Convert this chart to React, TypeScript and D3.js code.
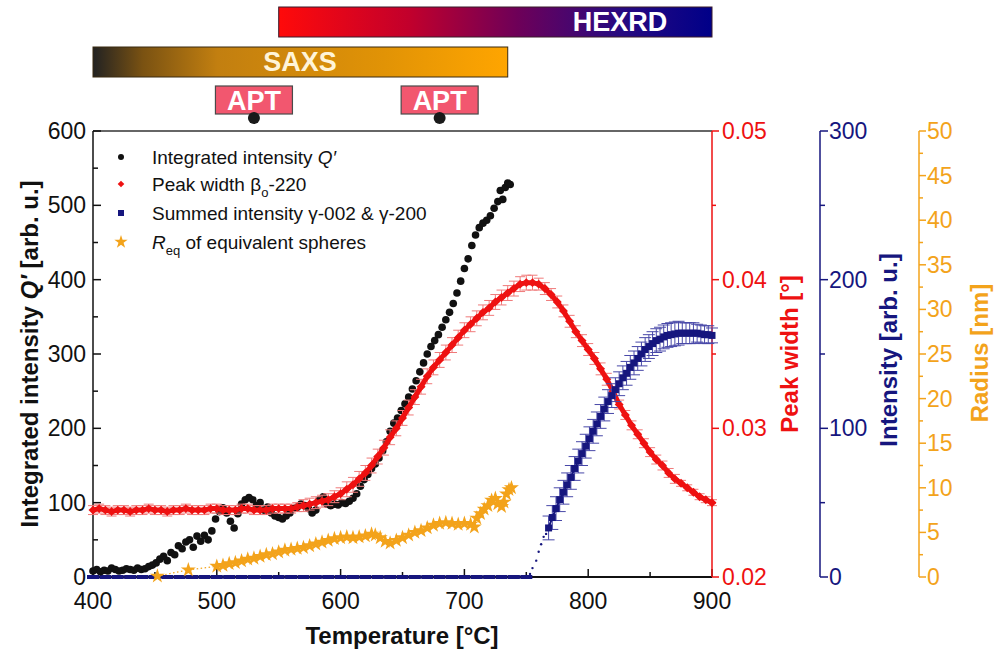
import React from "react";
import * as d3 from "d3";

// ---- Integrated intensity Q' (SAXS) ----
const qTemps = [400,403,406,409,412,415,418,421,424,427,430,433,436,439,442,445,448,451,454,457,460,463,466,469,472,475,478,481,484,487,490,493,496,499,502,505,508,511,514,517,520,523,526,529,532,535,538,541,544,547,550,553,556,559,562,565,568,571,574,577,580,583,586,589,592,595,598,601,604,607,610,613,616,619,622,625,628,631,634,637,640,643,646,649,652,655,658,661,664,667,670,673,676,679,682,685,688,691,694,697,700,703,706,709,712,715,718,721,724,727,729,731,733,735,737];
const qValues = [8,10,7,9,8,12,10,8,9,11,10,9,12,10,11,14,16,19,24,28,22,33,30,42,38,47,50,40,55,48,56,50,62,78,88,93,86,75,66,85,98,104,107,104,96,100,90,94,86,82,80,78,82,86,92,94,98,96,92,86,90,104,108,98,96,98,97,100,99,102,106,112,122,131,138,146,152,160,170,182,196,207,214,224,233,242,253,264,276,288,300,310,318,326,336,346,356,368,382,398,415,428,446,460,470,476,480,486,496,505,520,508,524,530,528];

// ---- Peak width beta_o-220 (HEXRD) ----
const wTemps = [400,405,410,415,420,425,430,435,440,445,450,455,460,465,470,475,480,485,490,495,500,505,510,515,520,525,530,535,540,545,550,555,560,565,570,575,580,585,590,595,600,605,610,615,620,625,630,635,640,645,650,655,660,665,670,675,680,685,690,695,700,705,710,715,720,725,730,735,740,745,750,755,760,765,770,775,780,785,790,795,800,805,810,815,820,825,830,835,840,845,850,855,860,865,870,875,880,885,890,895,900];
const wValues = [0.0245,0.0246,0.0245,0.0244,0.0245,0.0245,0.0244,0.0245,0.0245,0.0246,0.0245,0.0245,0.0244,0.0245,0.0245,0.0246,0.0245,0.0245,0.0245,0.0246,0.0246,0.0245,0.0245,0.0245,0.0246,0.0246,0.0245,0.0245,0.0245,0.0246,0.0246,0.0246,0.0246,0.0247,0.0248,0.0249,0.0250,0.0251,0.0252,0.0254,0.0256,0.0259,0.0262,0.0266,0.0270,0.0275,0.0281,0.0287,0.0294,0.0300,0.0307,0.0314,0.0321,0.0328,0.0335,0.0341,0.0346,0.0351,0.0356,0.0361,0.0366,0.0370,0.0374,0.0378,0.0381,0.0385,0.0388,0.0391,0.0394,0.0397,0.0398,0.0398,0.0397,0.0394,0.0390,0.0385,0.0379,0.0372,0.0365,0.0359,0.0353,0.0347,0.0340,0.0333,0.0325,0.0316,0.0309,0.0302,0.0296,0.0290,0.0284,0.0279,0.0275,0.0270,0.0266,0.0263,0.0260,0.0257,0.0254,0.0252,0.0250];
const wErrors = [0.0003,0.0003,0.0003,0.0003,0.0003,0.0003,0.0003,0.0003,0.0003,0.0003,0.0003,0.0003,0.0003,0.0003,0.0003,0.0003,0.0003,0.0003,0.0003,0.0003,0.0003,0.0003,0.0003,0.0003,0.0003,0.0003,0.0003,0.0003,0.0003,0.0003,0.0003,0.0003,0.0003,0.0003,0.0004,0.0004,0.0004,0.0004,0.0004,0.0004,0.0004,0.0005,0.0005,0.0005,0.0005,0.0005,0.0005,0.0005,0.0005,0.0005,0.0005,0.0005,0.0005,0.0005,0.0005,0.0005,0.0005,0.0005,0.0005,0.0005,0.0005,0.0005,0.0005,0.0005,0.0005,0.0005,0.0005,0.0005,0.0005,0.0005,0.0005,0.0005,0.0004,0.0004,0.0004,0.0004,0.0004,0.0004,0.0004,0.0004,0.0004,0.0004,0.0004,0.0004,0.0003,0.0003,0.0003,0.0003,0.0003,0.0003,0.0003,0.0003,0.0003,0.0003,0.0003,0.0002,0.0002,0.0002,0.0002,0.0002,0.0002];

// ---- Summed intensity gamma-002 & gamma-200 (HEXRD) ----
const gBaseTemps = [400,410,420,430,440,450,460,470,480,490,500,510,520,530,540,550,560,570,580,590,600,610,620,630,640,650,660,670,680,690,700,710,720,730,740,750];
const gBaseValues = [0,0,0,0,0,0,0,0,0,0,0,0,0,0,0,0,0,0,0,0,0,0,0,0,0,0,0,0,0,0,0,0,0,0,0,0];
const gOnsetTemps = [753,755,758,760,762,764,766];
const gOnsetValues = [2,6,11,17,22,27,29];
const gTemps = [768,771,774,777,780,783,786,789,792,795,798,801,804,807,810,813,816,819,822,825,828,831,834,837,840,843,846,849,852,855,858,861,864,867,870,873,876,879,882,885,888,891,894,897,900];
const gValues = [33,40,46,52,57,62,67,73,78,83,88,93,98,103,108,113,118,122,126,130,134,137,141,144,147,150,153,155,157,159,160,161.5,162.5,163,163.5,164,164,164,164,164,164,163.5,163,163,162.5];
const gErrors = [8,8,8,8,8,8,8,8,8,8,8,8,8,8,8,8,8,8,8,8,8,8,8,8,8,8,8,8,8,8,8,8,8,8,8,8,7,7,7,7,6,6,6,6,5];

// ---- R_eq of equivalent spheres (SAXS) ----
const rTemps = [452,477,500,505,510,515,520,525,530,535,540,545,550,555,560,565,570,575,580,585,590,595,600,605,610,615,620,625,628,632,636,640,645,650,655,660,665,670,675,680,685,690,695,700,705,708,710,713,716,719,722,725,727,730,732,734,736,738];
const rValues = [0.1,0.8,1.2,1.3,1.5,1.6,1.8,2.0,2.1,2.3,2.5,2.6,2.8,3.0,3.1,3.2,3.3,3.5,3.7,3.9,4.1,4.3,4.4,4.5,4.4,4.5,4.6,4.8,4.7,4.4,4.0,3.8,4.1,4.4,4.7,5.0,5.2,5.5,5.8,6.0,6.1,6.0,5.9,6.0,5.9,5.6,6.6,7.1,7.6,8.0,8.6,8.8,8.2,7.9,8.4,9.3,9.8,10.0];

// ---- Axis ticks ----
const tempTicks = [400, 500, 600, 700, 800, 900];
const tempMinor = [450, 550, 650, 750, 850];
const qTicks = [0, 100, 200, 300, 400, 500, 600];
const qMinor = [50, 150, 250, 350, 450, 550];
const wTicks = [0.02, 0.03, 0.04, 0.05];
const wMinor = [0.025, 0.035, 0.045];
const iTicks = [0, 100, 200, 300];
const iMinor = [50, 150, 250];
const rTicks = [0, 5, 10, 15, 20, 25, 30, 35, 40, 45, 50];
const rMinor = [2.5, 7.5, 12.5, 17.5, 22.5, 27.5, 32.5, 37.5, 42.5, 47.5];

// ---- Technique ranges shown above the plot ----
const hexrdRange = [550, 900];
const saxsRange = [400, 735];
const aptTemps = [530, 680];

const FONT = "'Liberation Sans', Arial, Helvetica, sans-serif";
const RED = "#ee1111";
const NAVY = "#16167e";
const ORANGE = "#f3a31b";

export default function App() {
  const left = 93, right = 712, top = 131, bottom = 577;
  const x = d3.scaleLinear().domain([400, 900]).range([left, right]);
  const yQ = d3.scaleLinear().domain([0, 600]).range([bottom, top]);
  const yW = d3.scaleLinear().domain([0.02, 0.05]).range([bottom, top]);
  const yI = d3.scaleLinear().domain([0, 300]).range([bottom, top]);
  const yR = d3.scaleLinear().domain([0, 50]).range([bottom, top]);

  const starPath = d3.symbol(d3.symbolStar, 70)() as string;
  const starSmall = d3.symbol(d3.symbolStar, 55)() as string;
  const square = d3.symbol(d3.symbolSquare, 40)() as string;

  const wLine = d3.line<number>().x((_, i) => x(wTemps[i])).y((v) => yW(v))(wValues) as string;
  const rLine = d3.line<number>().x((_, i) => x(rTemps[i])).y((v) => yR(v))(rValues) as string;
  const gLine = d3.line<number>().x((_, i) => x(gTemps[i])).y((v) => yI(v))(gValues) as string;

  const axisX = 712, navyX = 820, orangeX = 919;
  const tickFont = 23;

  return (
    <svg width={995} height={655} style={{ position: "absolute", left: 0, top: 0, background: "#fff" }} fontFamily={FONT}>
      <defs>
        <linearGradient id="hexrdGrad" x1="0" x2="1" y1="0" y2="0">
          <stop offset="0" stopColor="#ff0a0a" />
          <stop offset="0.3" stopColor="#c2002c" />
          <stop offset="0.55" stopColor="#6e0058" />
          <stop offset="0.78" stopColor="#2a0a80" />
          <stop offset="1" stopColor="#000088" />
        </linearGradient>
        <linearGradient id="saxsGrad" x1="0" x2="1" y1="0" y2="0">
          <stop offset="0" stopColor="#222222" />
          <stop offset="0.12" stopColor="#7a5212" />
          <stop offset="0.3" stopColor="#c27f10" />
          <stop offset="0.7" stopColor="#e19306" />
          <stop offset="1" stopColor="#ffa500" />
        </linearGradient>
      </defs>

      {/* technique bars */}
      <rect x={x(hexrdRange[0])} y={7} width={x(hexrdRange[1]) - x(hexrdRange[0])} height={30} fill="url(#hexrdGrad)" stroke="#3a1a2a" strokeWidth={1} />
      <text x={620} y={31} fill="#fff" fontSize={27} fontWeight="bold" textAnchor="middle">HEXRD</text>
      <rect x={x(saxsRange[0])} y={47} width={x(saxsRange[1]) - x(saxsRange[0])} height={30} fill="url(#saxsGrad)" stroke="#3a2a10" strokeWidth={1} />
      <text x={300} y={71} fill="#fff4d8" fontSize={27} fontWeight="bold" textAnchor="middle">SAXS</text>
      {aptTemps.map((t) => (
        <g key={t}>
          <rect x={x(t) - 38.5} y={86} width={77} height={28} fill="#f2576f" stroke="#4a4a4a" strokeWidth={1.2} />
          <text x={x(t)} y={110} fill="#fff" fontSize={27} fontWeight="bold" textAnchor="middle">APT</text>
          <circle cx={x(t)} cy={118} r={6} fill="#1a1a1a" />
        </g>
      ))}

      {/* frame */}
      <line x1={left} x2={right} y1={top} y2={top} stroke="#333" strokeWidth={1.5} />
      <line x1={left} x2={left} y1={top} y2={bottom} stroke="#111" strokeWidth={1.5} />
      <line x1={left} x2={right} y1={bottom} y2={bottom} stroke="#111" strokeWidth={2} />

      {/* bottom axis */}
      {tempTicks.map((t) => (
        <g key={"tx" + t}>
          <line x1={x(t)} x2={x(t)} y1={bottom} y2={bottom - 8} stroke="#111" strokeWidth={1.5} />
          <text x={x(t)} y={601} dy="0.35em" fontSize={tickFont} textAnchor="middle" fill="#111">{t}</text>
        </g>
      ))}
      {tempMinor.map((t) => (
        <line key={"tm" + t} x1={x(t)} x2={x(t)} y1={bottom} y2={bottom - 5} stroke="#111" strokeWidth={1.5} />
      ))}
      <text x={402} y={644} fontSize={24} fontWeight="bold" textAnchor="middle" fill="#111">Temperature [°C]</text>

      {/* left axis */}
      {qTicks.map((v) => (
        <g key={"q" + v}>
          <line x1={left} x2={left + 8} y1={yQ(v)} y2={yQ(v)} stroke="#111" strokeWidth={1.5} />
          <text x={86} y={yQ(v)} dy="0.35em" fontSize={tickFont} textAnchor="end" fill="#111">{v}</text>
        </g>
      ))}
      {qMinor.map((v) => (
        <line key={"qm" + v} x1={left} x2={left + 5} y1={yQ(v)} y2={yQ(v)} stroke="#111" strokeWidth={1.5} />
      ))}
      <text transform="translate(30,354) rotate(-90)" dy="0.35em" fontSize={24} fontWeight="bold" textAnchor="middle" fill="#111">
        Integrated intensity <tspan fontStyle="italic">Q′</tspan> [arb. u.]
      </text>

      {/* peak width axis */}
      <line x1={axisX} x2={axisX} y1={top} y2={bottom} stroke={RED} strokeWidth={1.5} />
      {wTicks.map((v) => (
        <g key={"w" + v}>
          <line x1={axisX} x2={axisX + 7} y1={yW(v)} y2={yW(v)} stroke={RED} strokeWidth={1.5} />
          <text x={722} y={yW(v)} dy="0.35em" fontSize={tickFont} fill={RED}>{v.toFixed(2)}</text>
        </g>
      ))}
      {wMinor.map((v) => (
        <line key={"wm" + v} x1={axisX} x2={axisX + 4} y1={yW(v)} y2={yW(v)} stroke={RED} strokeWidth={1.5} />
      ))}
      <text transform="translate(790,354) rotate(-90)" dy="0.35em" fontSize={24} fontWeight="bold" textAnchor="middle" fill={RED}>Peak width [°]</text>

      {/* intensity axis */}
      <line x1={navyX} x2={navyX} y1={top} y2={bottom} stroke={NAVY} strokeWidth={1.5} />
      {iTicks.map((v) => (
        <g key={"i" + v}>
          <line x1={navyX} x2={navyX + 8} y1={yI(v)} y2={yI(v)} stroke={NAVY} strokeWidth={1.5} />
          <text x={829} y={yI(v)} dy="0.35em" fontSize={tickFont} fill={NAVY}>{v}</text>
        </g>
      ))}
      {iMinor.map((v) => (
        <line key={"im" + v} x1={navyX} x2={navyX + 5} y1={yI(v)} y2={yI(v)} stroke={NAVY} strokeWidth={1.5} />
      ))}
      <text transform="translate(889,350) rotate(-90)" dy="0.35em" fontSize={24} fontWeight="bold" textAnchor="middle" fill={NAVY}>Intensity [arb. u.]</text>

      {/* radius axis */}
      <line x1={orangeX} x2={orangeX} y1={top} y2={bottom} stroke={ORANGE} strokeWidth={1.5} />
      {rTicks.map((v) => (
        <g key={"r" + v}>
          <line x1={orangeX} x2={orangeX + 7} y1={yR(v)} y2={yR(v)} stroke={ORANGE} strokeWidth={1.5} />
          <text x={927} y={yR(v)} dy="0.35em" fontSize={tickFont} fill={ORANGE}>{v}</text>
        </g>
      ))}
      {rMinor.map((v) => (
        <line key={"rm" + v} x1={orangeX} x2={orangeX + 4} y1={yR(v)} y2={yR(v)} stroke={ORANGE} strokeWidth={1.5} />
      ))}
      <text transform="translate(980,353) rotate(-90)" dy="0.35em" fontSize={24} fontWeight="bold" textAnchor="middle" fill={ORANGE}>Radius [nm]</text>

      {/* gamma baseline (zero intensity before the onset) */}
      {gBaseTemps.map((t, i) => (
        <rect key={"gb" + t} x={x(t) - 6} y={yI(gBaseValues[i]) - 2} width={12} height={4} fill={NAVY} />
      ))}

      {/* R_eq */}
      <path d={rLine} fill="none" stroke={ORANGE} strokeWidth={1.2} strokeDasharray="1.5,2.5" />
      {rTemps.map((t, i) => (
        <path key={"r" + t} d={starPath} transform={`translate(${x(t)},${yR(rValues[i])})`} fill={ORANGE} />
      ))}

      {/* Q' */}
      {qTemps.map((t, i) => (
        <circle key={"q" + t} cx={x(t)} cy={yQ(qValues[i])} r={3.8} fill="#111" />
      ))}

      {/* peak width with error bars */}
      {wTemps.map((t, i) => {
        const y0 = yW(wValues[i] - wErrors[i]);
        const y1 = yW(wValues[i] + wErrors[i]);
        const cx = x(t);
        return (
          <g key={"we" + t} stroke="#f07a7a" strokeWidth={1}>
            <line x1={cx} x2={cx} y1={y0} y2={y1} />
            <line x1={cx - 5} x2={cx + 5} y1={y0} y2={y0} />
            <line x1={cx - 5} x2={cx + 5} y1={y1} y2={y1} />
          </g>
        );
      })}
      <path d={wLine} fill="none" stroke={RED} strokeWidth={5} />
      {wTemps.map((t, i) => (
        <path key={"w" + t} d={square} transform={`translate(${x(t)},${yW(wValues[i])}) rotate(45)`} fill={RED} />
      ))}

      {/* summed gamma intensity */}
      {gOnsetTemps.map((t, i) => (
        <circle key={"go" + t} cx={x(t)} cy={yI(gOnsetValues[i])} r={1.2} fill={NAVY} />
      ))}
      {gTemps.map((t, i) => {
        const y0 = yI(gValues[i] - gErrors[i]);
        const y1 = yI(gValues[i] + gErrors[i]);
        const cx = x(t);
        return (
          <g key={"ge" + t} stroke="#4848a8" strokeWidth={1}>
            <line x1={cx} x2={cx} y1={y0} y2={y1} />
            <line x1={cx - 6} x2={cx + 6} y1={y0} y2={y0} />
            <line x1={cx - 6} x2={cx + 6} y1={y1} y2={y1} />
          </g>
        );
      })}
      <path d={gLine} fill="none" stroke={NAVY} strokeWidth={2} />
      {gTemps.map((t, i) => (
        <rect key={"g" + t} x={x(t) - 3.5} y={yI(gValues[i]) - 3.5} width={7} height={7} fill={NAVY} />
      ))}

      {/* legend */}
      <g fontSize={19} fill="#111">
        <circle cx={121} cy={157} r={3} fill="#111" />
        <text x={152} y={157} dy="0.35em">Integrated intensity <tspan fontStyle="italic">Q′</tspan></text>
        <path d={d3.symbol(d3.symbolSquare, 22)() as string} transform="translate(121,184) rotate(45)" fill={RED} />
        <text x={152} y={184} dy="0.35em">Peak width β<tspan fontSize={13} dy="6">o</tspan><tspan dy="-6">-220</tspan></text>
        <rect x={118} y={210} width={6} height={6} fill={NAVY} />
        <text x={152} y={213} dy="0.35em">Summed intensity γ-002 &amp; γ-200</text>
        <path d={starSmall} transform="translate(121,242)" fill={ORANGE} />
        <text x={152} y={242} dy="0.35em"><tspan fontStyle="italic">R</tspan><tspan fontSize={13} dy="6">eq</tspan><tspan dy="-6"> of equivalent spheres</tspan></text>
      </g>
    </svg>
  );
}
